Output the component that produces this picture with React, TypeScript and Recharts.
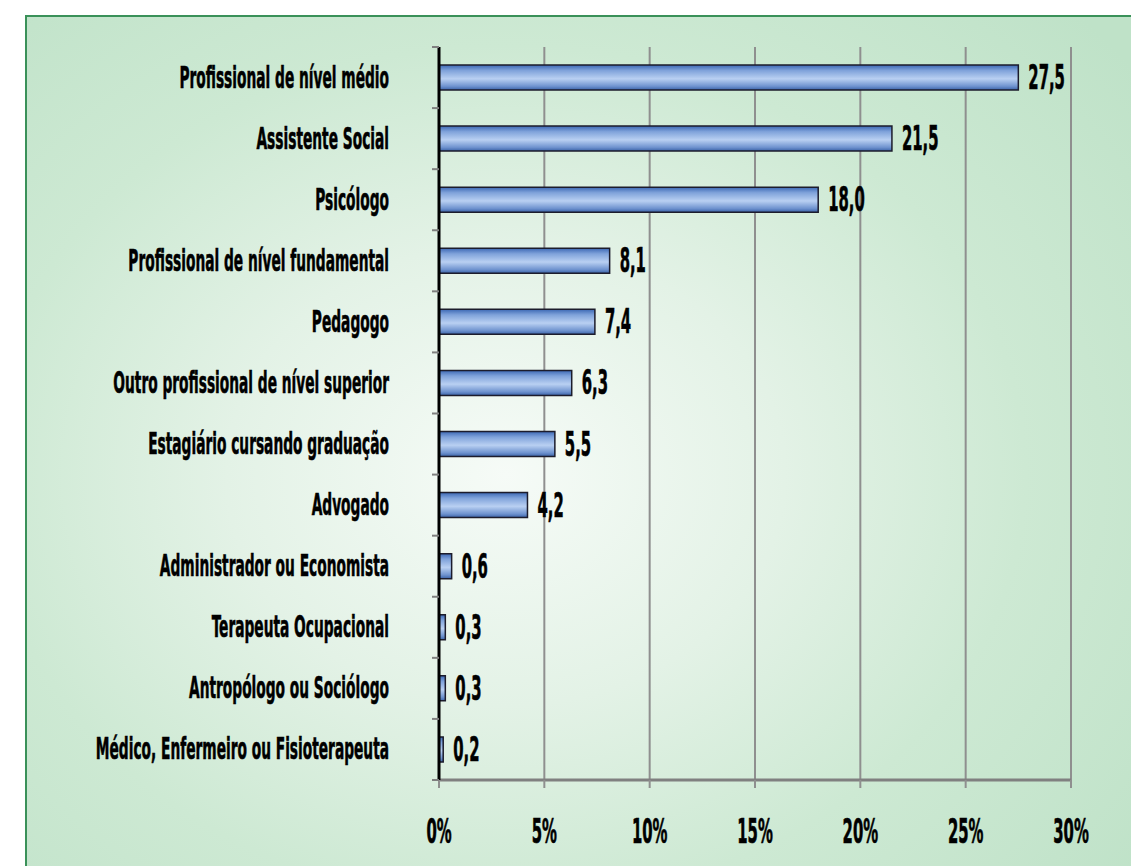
import React from "react";
import { BarChart, Bar, XAxis, YAxis, CartesianGrid } from "recharts";

const categories = [
  "Profissional de nível médio",
  "Assistente Social",
  "Psicólogo",
  "Profissional de nível fundamental",
  "Pedagogo",
  "Outro profissional de nível superior",
  "Estagiário cursando graduação",
  "Advogado",
  "Administrador ou Economista",
  "Terapeuta Ocupacional",
  "Antropólogo ou Sociólogo",
  "Médico, Enfermeiro ou Fisioterapeuta",
];

const values = [27.5, 21.5, 18.0, 8.1, 7.4, 6.3, 5.5, 4.2, 0.6, 0.3, 0.3, 0.2];

const xTicks = [0, 5, 10, 15, 20, 25, 30];

const data = categories.map((name, i) => ({ name, value: values[i] }));

const FONT = "'Liberation Sans Narrow', 'DejaVu Sans Condensed', 'Liberation Sans', sans-serif";
const SX_CAT = 0.51; // squeeze to mimic the condensed display face
const SX_NUM = 0.5;
const Y_TICK = 7;
const Y_MARGIN = 43;

const fmt = (v: number) => v.toFixed(1).replace(".", ",");

function YTick(props: any) {
  const { x, y, payload, index } = props;
  const half = payload?.offset ?? 30.5;
  const axisX = x + Y_MARGIN + Y_TICK;
  return (
    <g>
      <line x1={axisX - Y_TICK} x2={axisX} y1={y - half} y2={y - half} stroke="#7f7f7f" strokeWidth={2} />
      {index === categories.length - 1 && (
        <line x1={axisX - Y_TICK} x2={axisX} y1={y + half} y2={y + half} stroke="#7f7f7f" strokeWidth={2} />
      )}
      <text
        transform={`translate(${x},${y + 10}) scale(${SX_CAT},1)`}
        textAnchor="end"
        fontFamily={FONT}
        fontWeight="bold"
        fontSize={30}
        fill="#000"
        stroke="#000"
        strokeWidth={0.6}
      >
        {payload.value}
      </text>
    </g>
  );
}

function XTick(props: any) {
  const { x, y, payload } = props;
  return (
    <text
      transform={`translate(${x},${y + 27}) scale(${SX_NUM},1)`}
      textAnchor="middle"
      fontFamily={FONT}
      fontWeight="bold"
      fontSize={33}
      fill="#000"
      stroke="#000"
      strokeWidth={0.6}
    >
      {payload.value}%
    </text>
  );
}

function ValueLabel(props: any) {
  const { x, y, width, height, value } = props;
  return (
    <text
      transform={`translate(${x + width + 10},${y + height / 2 + 11.5}) scale(${SX_NUM},1)`}
      textAnchor="start"
      fontFamily={FONT}
      fontWeight="bold"
      fontSize={33}
      fill="#000"
      stroke="#000"
      strokeWidth={0.6}
    >
      {fmt(value)}
    </text>
  );
}

export default function App() {
  return (
    <div
      style={{
        position: "absolute",
        left: 0,
        top: 0,
        width: 1131,
        height: 866,
        overflow: "hidden",
        background: "#fff",
      }}
    >
      <div
        style={{
          position: "absolute",
          left: 25,
          top: 15,
          width: 1140,
          height: 880,
          border: "2px solid #3a9159",
          background:
            "radial-gradient(ellipse 70% 75% at 42% 52%, #f6fbf7 0%, #e3f2e6 35%, #cde9d3 65%, #bfe2c8 100%)",
        }}
      />
      <div style={{ position: "absolute", left: 0, top: 0 }}>
        <BarChart
          layout="vertical"
          width={1131}
          height={866}
          data={data}
          margin={{ top: 47, right: 60, bottom: 0, left: 0 }}
          barSize={25}
        >
          <defs>
            <linearGradient id="barGrad" x1="0" y1="0" x2="0" y2="1">
              <stop offset="0%" stopColor="#3c68b4" />
              <stop offset="22%" stopColor="#7fa2da" />
              <stop offset="55%" stopColor="#b9d0f2" />
              <stop offset="85%" stopColor="#6f93cf" />
              <stop offset="100%" stopColor="#3a62a8" />
            </linearGradient>
          </defs>
          <CartesianGrid horizontal={false} stroke="#8f8f8f" strokeWidth={2} />
          <XAxis
            type="number"
            domain={[0, 30]}
            ticks={xTicks}
            tick={<XTick />}
            height={86}
            tickSize={8}
            tickMargin={28}
            axisLine={{ stroke: "#808080", strokeWidth: 3 }}
            tickLine={{ stroke: "#8f8f8f", strokeWidth: 2 }}
          />
          <YAxis
            type="category"
            dataKey="name"
            width={439}
            interval={0}
            tickSize={Y_TICK}
            tickMargin={Y_MARGIN}
            tickLine={false}
            axisLine={{ stroke: "#000", strokeWidth: 3 }}
            tick={<YTick />}
          />
          <Bar
            dataKey="value"
            isAnimationActive={false}
            fill="url(#barGrad)"
            stroke="#1c1c2c"
            strokeWidth={1.5}
            label={<ValueLabel />}
          />
        </BarChart>
      </div>
    </div>
  );
}
